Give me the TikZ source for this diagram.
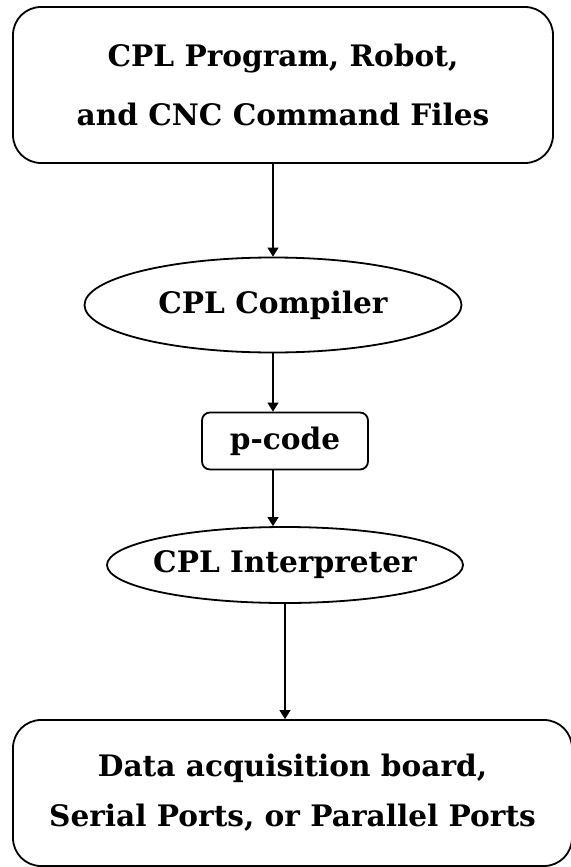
\documentclass[tikz,border=0pt]{standalone}
\usepackage{fontspec}
\setmainfont{DejaVu Serif}
\usetikzlibrary{shapes.geometric,arrows.meta}
\begin{document}
\begin{tikzpicture}[x=0.5pt,y=-0.5pt,
 bigbox/.style={draw,line width=0.9pt,rounded corners=14pt,align=center,font=\bfseries\fontsize{14.8}{29.5}\selectfont},
 oval/.style={draw,ellipse,line width=0.9pt,inner sep=0pt,font=\bfseries\fontsize{14.8}{17}\selectfont},
 smallbox/.style={draw,line width=0.9pt,rounded corners=4pt,font=\bfseries\fontsize{14.8}{17}\selectfont},
 flow/.style={line width=0.6pt,-{Triangle[length=4.5pt,width=5.5pt]}}]
 \useasboundingbox (0,0) rectangle (570,867);
 \node[bigbox,minimum width=270pt,minimum height=78pt] (files) at (283,85) {CPL Program, Robot,\\and CNC Command Files};
 \node[oval,minimum width=188.5pt,minimum height=47.5pt] (compiler) at (273,305) {CPL Compiler};
 \node[smallbox,minimum width=83pt,minimum height=28.5pt] (pcode) at (285,441) {p-code};
 \node[oval,inner xsep=-3pt,minimum width=178pt,minimum height=38pt] (interp) at (285,565) {CPL Interpreter};
 \node[bigbox,minimum width=279.5pt,minimum height=73pt,font=\bfseries\fontsize{14.8}{25}\selectfont] (devices) at (292.5,793) {Data acquisition board,\\Serial Ports, or Parallel Ports};
 \draw[flow] (files.south -| compiler) -- (compiler.north);
 \draw[flow] (compiler.south) -- (compiler.south |- pcode.north);
 \draw[flow] (pcode.south -| compiler) -- (interp.north -| compiler);
 \draw[flow] (interp.south) -- (devices.north -| interp.south);
\end{tikzpicture}
\end{document}
